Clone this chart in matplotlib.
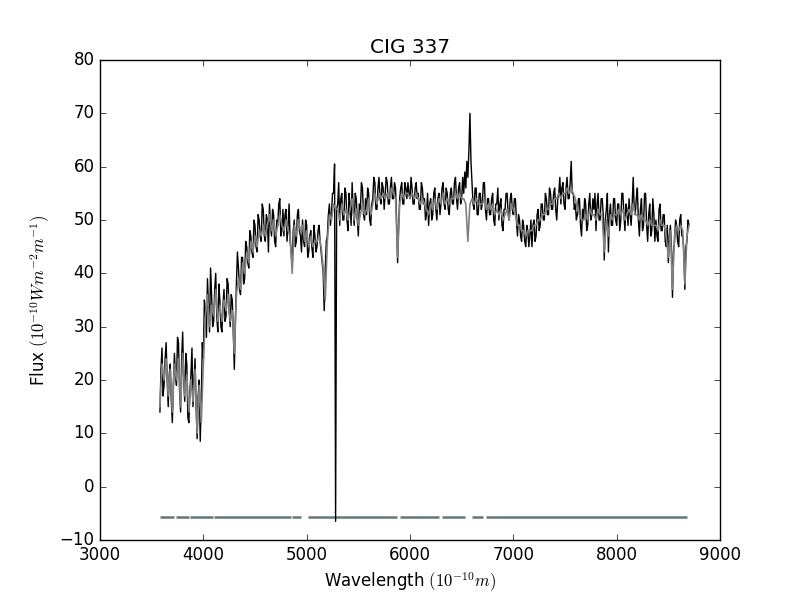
import numpy as np
import matplotlib
matplotlib.use("Agg")
import matplotlib.pyplot as plt

plt.style.use('classic')

# observed spectrum: wavelength grid (Angstrom), 10 A steps
wave_obs = np.arange(3580, 8701, 10)

# observed flux (black)
flux_obs = [
    14, 22, 26, 17, 19, 24, 27, 20, 15, 21, 23, 16, 12, 19, 25, 21, 19, 28, 27, 18,
    14, 24, 29, 20, 16, 25, 23, 13, 12, 18, 21, 26, 15, 20, 24, 15, 9, 17, 20, 8.5,
    16, 27, 24, 35, 33, 28, 39, 34, 29, 41, 36, 30, 31, 37, 40, 32, 29, 38, 35, 30,
    29, 34, 37, 31, 32, 39, 38, 33, 30, 36, 35, 29, 22, 31, 38, 44, 41, 37, 36, 43,
    43, 38, 39, 46, 45, 42, 41, 48, 47, 44, 43, 50, 49, 45, 44, 51, 50, 47, 46, 53,
    52, 47, 46, 51, 50, 44, 53, 49, 47, 52, 51, 46, 45, 50, 49, 53, 54, 47, 48, 52,
    47, 51, 52, 46, 49, 53, 46, 44, 41, 48, 50, 45, 46, 51, 52, 48, 47, 44, 50, 46,
    45, 50, 49, 43, 44, 47, 48, 45, 43, 49, 47, 44, 45, 48, 49, 46, 44, 42, 40, 33,
    41, 46, 47, 51, 53, 49, 51, 55, 55, 60.5, -6.5, 52, 53, 57, 49, 54, 55, 50, 50, 56,
    55, 50, 48, 55, 53, 49, 57, 52, 49, 55, 54, 50, 47, 53, 52, 57, 56, 51, 50, 54,
    51, 56, 55, 50, 49, 53, 54, 58, 57, 52, 52, 56, 58, 54, 53, 57, 56, 52, 55, 58,
    57, 53, 53, 56, 58, 54, 54, 57, 56, 50, 42, 49, 54, 56, 57, 53, 53, 57, 56, 54,
    57, 55, 54, 58, 56, 53, 53, 56, 57, 54, 55, 52, 52, 57, 56, 53, 54, 50, 51, 55,
    49, 53, 54, 50, 51, 55, 56, 52, 50, 54, 55, 51, 53, 56, 57, 53, 52, 56, 55, 52,
    51, 55, 56, 53, 53, 57, 58, 54, 52, 56, 57, 53, 54, 58, 55, 59, 56, 61, 58, 63,
    70, 61, 57, 53, 52, 56, 56, 51, 51, 55, 55, 52, 53, 57, 57, 52, 50, 54, 54, 51,
    51, 54, 55, 50, 49, 53, 53, 56, 50, 53, 54, 49, 48, 52, 52, 55, 55, 51, 50, 54,
    55, 52, 51, 54, 54, 50, 47, 51, 50, 47, 46, 50, 49, 46, 45, 49, 48, 45, 47, 50,
    45, 49, 50, 46, 47, 51, 52, 48, 49, 53, 53, 50, 50, 55, 54, 51, 51, 56, 55, 52,
    52, 55, 56, 52, 50, 54, 55, 58, 53, 56, 57, 53, 52, 56, 58, 54, 54, 57, 61, 55,
    55, 52, 53, 50, 51, 54, 54, 49, 47, 52, 50, 54, 53, 48, 49, 53, 55, 50, 51, 54,
    52, 55, 48, 53, 55, 50, 50, 54, 54, 51, 42.5, 50, 52, 55, 44, 51, 53, 49, 49, 54,
    54, 50, 49, 53, 53, 48, 50, 55, 55, 51, 48, 53, 52, 49, 54, 51, 49, 53, 58, 52,
    51, 54, 56, 50, 47, 52, 54, 48, 49, 55, 55, 49, 46, 51, 53, 47, 48, 54, 51, 46,
    50, 47, 46, 52, 53, 48, 48, 51, 51, 46, 45, 49, 42, 47, 49, 45, 35.5, 44, 46, 50,
    49, 46, 45, 50, 51, 47, 47, 44, 37, 45, 46, 50, 49,
]

# synthetic / model spectrum: wavelength grid (Angstrom), 20 A steps
wave_syn = np.arange(3580, 8701, 20)

# synthetic / model flux (grey)
flux_syn = [
    15, 23, 20, 24, 17, 22, 14, 23, 20, 24,
    15, 25, 17, 21, 14, 20, 16, 22, 10, 19,
    12, 23, 32, 36, 30, 34, 32, 37, 31, 34,
    31, 35, 33, 36, 31, 33, 25, 36, 39, 37,
    42, 40, 44, 42, 46, 44, 47, 45, 48, 47,
    49, 47, 49, 51, 48, 50, 47, 49, 51, 49,
    48, 50, 48, 47, 40, 49, 47, 50, 48, 49,
    46, 48, 45, 47, 45, 46, 46, 47, 45, 41,
    35, 46, 51, 50, 53, 52, 52, 50, 53, 51,
    52, 50, 52, 54, 50, 52, 49, 51, 53, 51,
    52, 54, 51, 53, 55, 53, 55, 54, 55, 54,
    55, 54, 56, 55, 54, 43, 53, 55, 54, 55,
    55, 54, 55, 54, 55, 54, 53, 54, 53, 52,
    51, 53, 52, 54, 52, 54, 53, 55, 53, 54,
    53, 54, 54, 55, 54, 55, 54, 54, 53, 46,
    53, 54, 53, 54, 53, 53, 53, 54, 52, 53,
    52, 53, 51, 52, 51, 52, 50, 51, 52, 50,
    53, 52, 51, 49, 49, 48, 48, 47, 48, 48,
    48, 49, 49, 50, 50, 51, 51, 52, 52, 53,
    53, 54, 54, 55, 54, 55, 55, 56, 55, 56,
    55, 54, 52, 51, 50, 50, 51, 50, 52, 51,
    51, 50, 52, 51, 51, 44, 50, 47, 51, 50,
    51, 51, 52, 51, 52, 50, 51, 52, 51, 53,
    51, 51, 50, 51, 50, 50, 49, 50, 49, 49,
    49, 48, 50, 49, 49, 47, 43, 48, 37, 47,
    49, 48, 49, 48, 38, 47, 49,
]

# fitted wavelength windows (mask) shown at the bottom
mask_start = [3579, 3734, 3872, 4104, 4857, 5012, 5903, 6307, 6601, 6739]
mask_end = [3717, 3862, 4097, 4846, 4943, 5876, 6283, 6532, 6705, 8684]
mask_level = -5.7

fig = plt.figure(figsize=(8, 6), dpi=100, facecolor='white')
ax = fig.add_subplot(111)

ax.hlines([mask_level] * len(mask_start), mask_start, mask_end,
          colors='#667777', linewidth=1.8)
ax.plot(wave_obs, flux_obs, color='black', linewidth=1.0)
ax.plot(wave_syn, flux_syn, color='0.5', linewidth=1.2)

ax.set_xlim(3000, 9000)
ax.set_ylim(-10, 80)
ax.set_title('CIG 337')
ax.set_xlabel(r'Wavelength $(10^{-10}m)$')
ax.set_ylabel(r'Flux $(10^{-10} W m^{-2} m^{-1})$')

fig.savefig('out.png', dpi=100, facecolor='white')
